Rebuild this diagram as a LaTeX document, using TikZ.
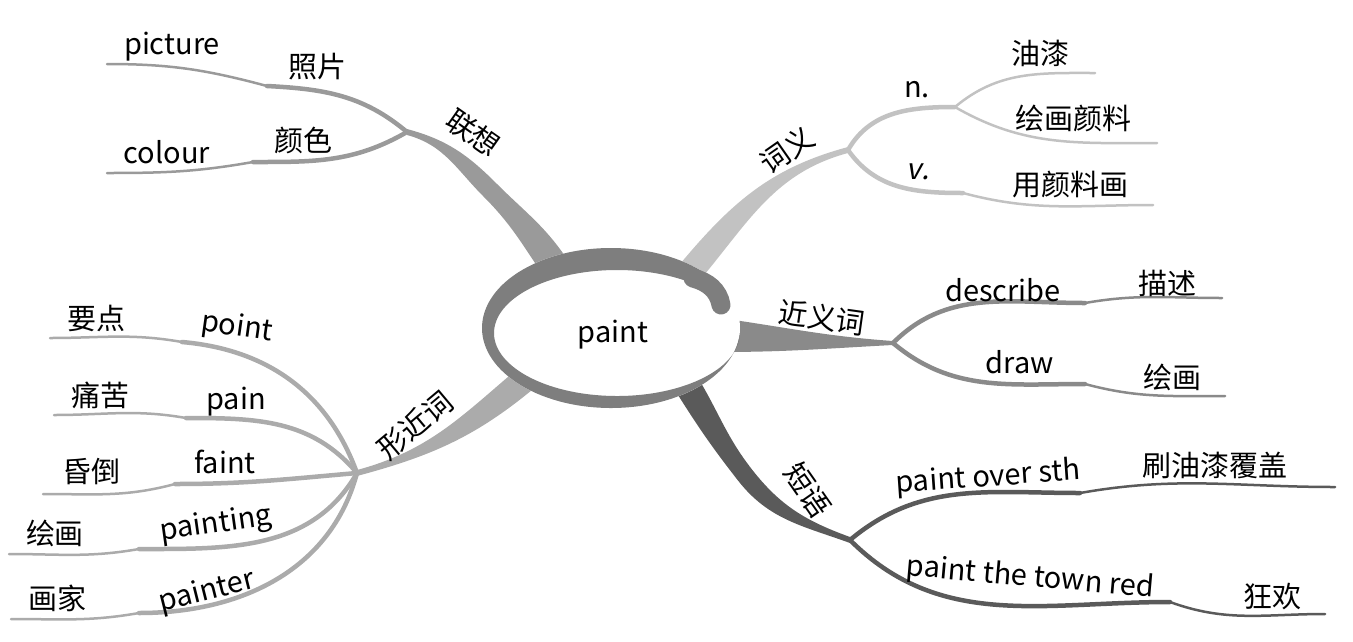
\documentclass[tikz,border=0pt]{standalone}
\usepackage{fontspec}
\setmainfont{Noto Sans CJK SC}
\newfontfamily\slantfont[FakeSlant=0.2]{Noto Sans CJK SC}
\usetikzlibrary{calc}

\definecolor{ringgray}{HTML}{7E7E7E}
\definecolor{assoc}{HTML}{9A9A9A}
\definecolor{meaning}{HTML}{C2C2C2}
\definecolor{synonym}{HTML}{8A8A8A}
\definecolor{phrase}{HTML}{5A5A5A}
\definecolor{similar}{HTML}{ABABAB}

\begin{document}
\begin{tikzpicture}[
  x=1pt, y=1pt,
  every node/.style = {font=\fontsize{29}{32}\selectfont, inner sep=0pt},
  twig/.style = {line width=4.5pt, line cap=round},
  leaf/.style = {line width=2.5pt, line cap=round}
]
\useasboundingbox (0,0) rectangle (1353,-641);

\coordinate (c)  at (611,-328);
\coordinate (ci) at (617,-333);
\coordinate (b1) at (555,-267);
\coordinate (m1) at (490,-190);
\coordinate (b2) at (690,-272);
\coordinate (b3) at (720,-335);
\coordinate (b4) at (684,-380);
\coordinate (m4) at (745,-475);
\coordinate (b5) at (530,-375);
\coordinate (j1) at (407,-132);
\coordinate (j2) at (848,-150);
\coordinate (j3) at (955,-107);
\coordinate (j4) at (893,-343);
\coordinate (j5) at (850,-540);
\coordinate (j6) at (357,-473);
\coordinate (curl) at (721,-305);

\coordinate (k11) at (267,-86);   \coordinate (e11) at (107,-64);
\coordinate (k12) at (253,-162);  \coordinate (e12) at (107,-173);
\coordinate (e21) at (1095,-73);
\coordinate (e22) at (1157,-143);
\coordinate (k23) at (963,-193);  \coordinate (e23) at (1153,-205);
\coordinate (k31) at (1085,-303); \coordinate (e31) at (1222,-298);
\coordinate (k32) at (1085,-384); \coordinate (e32) at (1225,-396);
\coordinate (k41) at (1080,-493); \coordinate (e41) at (1335,-487);
\coordinate (k42) at (1170,-602); \coordinate (e42) at (1325,-614);
\coordinate (k51) at (182,-342);  \coordinate (e51) at (50,-338);
\coordinate (k52) at (186,-418);  \coordinate (e52) at (54,-415);
\coordinate (k53) at (175,-484);  \coordinate (e53) at (43,-494);
\coordinate (k54) at (139,-549);  \coordinate (e54) at (9,-554);
\coordinate (k55) at (139,-613);  \coordinate (e55) at (11,-619);

% main branches, wide at the hub
\fill[assoc] ($(b1)+(12,8)$) to[out=124,in=-45] ($(m1)+(6.5,6.5)$)
  to[out=135,in=-15] ($(j1)+(0,3)$)
  -- ($(j1)+(0,-3)$) to[out=-15,in=135] ($(m1)+(-6.5,-6.5)$)
  to[out=-45,in=124] ($(b1)+(-12,-8)$) -- cycle;
\fill[meaning] ($(b2)+(-10,8)$) to[out=50,in=195] ($(j2)+(0,3)$)
  -- ($(j2)+(0,-3)$) to[out=195,in=50] ($(b2)+(10,-8)$) -- cycle;
\fill[synonym] ($(b3)+(0,17)$) to[out=-8,in=176] ($(j4)+(0,2)$)
  -- ($(j4)+(0,-2)$) to[out=183,in=0] ($(b3)+(0,-17)$) -- cycle;
\fill[phrase] ($(b4)+(11,7)$) to[out=-58,in=128] ($(m4)+(7,5.5)$)
  to[out=-52,in=160] ($(j5)+(0,3)$)
  -- ($(j5)+(0,-3)$) to[out=160,in=-52] ($(m4)+(-7,-5.5)$)
  to[out=128,in=-58] ($(b4)+(-11,-7)$) -- cycle;
\fill[similar] ($(b5)+(-8,10)$) to[out=220,in=15] ($(j6)+(0,3)$)
  -- ($(j6)+(0,-3)$) to[out=15,in=220] ($(b5)+(8,-10)$) -- cycle;

% the hub
\fill[white] (c) ellipse[x radius=129, y radius=80];
\fill[ringgray] ($(c)+(40:129 and 80)$)
  arc[start angle=40, end angle=355, x radius=129, y radius=80]
  -- ($(ci)+(355:123 and 63)$)
  arc[start angle=355, end angle=40, x radius=123, y radius=63] -- cycle;
\draw[ringgray, line width=19pt, line cap=round] (693,-278) to[out=-15,in=100] (curl);
\node (root) at (613,-335) {paint};

% 联想
\draw[twig, assoc] (j1) to[out=140,in=-3] (k11);
\draw[leaf, assoc] (k11) to[out=165,in=0] (e11);
\draw[twig, assoc] (j1) to[out=210,in=0] (k12);
\draw[leaf, assoc] (k12) to[out=190,in=0] (e12);
\node (assoc) [rotate=-35] at (473,-133) {联想};
\node (photo) at (317,-67) {照片};
\node (picture) at (172,-47) {picture};
\node (colourcn) at (303,-140) {颜色};
\node (colour) at (167,-152) {colour};

% 词义
\draw[twig, meaning] (j2) to[out=60,in=180] (j3);
\draw[leaf, meaning] (j3) to[out=40,in=180] (e21);
\draw[leaf, meaning] (j3) to[out=-30,in=180] (e22);
\draw[twig, meaning] (j2) to[out=-55,in=180] (k23);
\draw[leaf, meaning] (k23) to[out=-15,in=180] (e23);
\node (mean) [rotate=35] at (787,-150) {词义};
\node (noun) at (917,-90) {n.};
\node (verb) at (918,-172) {\slantfont v.};
\node (oil) at (1040,-53) {油漆};
\node (pigment) at (1073,-118) {绘画颜料};
\node (paintwith) at (1070,-185) {用颜料画};

% 近义词
\draw[twig, synonym] (j4) to[out=45,in=180] (k31);
\draw[leaf, synonym] (k31) to[out=10,in=180] (e31);
\draw[twig, synonym] (j4) to[out=-40,in=180] (k32);
\draw[leaf, synonym] (k32) to[out=-15,in=180] (e32);
\node (syn) [rotate=-8] at (822,-318) {近义词};
\node (describe) at (1003,-290) {describe};
\node (describecn) at (1167,-283) {描述};
\node (draw) at (1020,-362) {draw};
\node (drawcn) at (1172,-377) {绘画};

% 短语
\draw[twig, phrase] (j5) to[out=40,in=180] (k41);
\draw[leaf, phrase] (k41) to[out=10,in=180] (e41);
\draw[twig, phrase] (j5) to[out=-45,in=180] (k42);
\draw[leaf, phrase] (k42) to[out=-20,in=180] (e42);
\node (phr) [rotate=-55] at (808,-490) {短语};
\node (over) [rotate=4] at (988,-478) {paint over sth};
\node (overcn) at (1215,-465) {刷油漆覆盖};
\node (town) [rotate=-5] at (1030,-578) {paint the town red};
\node (towncn) at (1272,-597) {狂欢};

% 形近词
\draw[twig, similar] (j6) to[out=110,in=-5] (k51);
\draw[leaf, similar] (k51) to[out=170,in=0] (e51);
\draw[twig, similar] (j6) to[out=130,in=0] (k52);
\draw[leaf, similar] (k52) to[out=170,in=0] (e52);
\draw[twig, similar] (j6) to[out=185,in=0] (k53);
\draw[leaf, similar] (k53) to[out=195,in=0] (e53);
\draw[twig, similar] (j6) to[out=240,in=0] (k54);
\draw[leaf, similar] (k54) to[out=190,in=0] (e54);
\draw[twig, similar] (j6) to[out=255,in=0] (k55);
\draw[leaf, similar] (k55) to[out=190,in=0] (e55);
\node (sim) [rotate=40] at (415,-425) {形近词};
\node (point) [rotate=-8] at (237,-328) {point};
\node (pointcn) at (96,-318) {要点};
\node (pain) at (236,-402) {pain};
\node (paincn) at (100,-395) {痛苦};
\node (faint) at (225,-462) {faint};
\node (faintcn) at (91,-472) {昏倒};
\node (painting) [rotate=8] at (216,-525) {painting};
\node (paintingcn) at (55,-533) {绘画};
\node (painter) [rotate=14] at (207,-592) {painter};
\node (paintercn) at (57,-598) {画家};

\end{tikzpicture}
\end{document}
